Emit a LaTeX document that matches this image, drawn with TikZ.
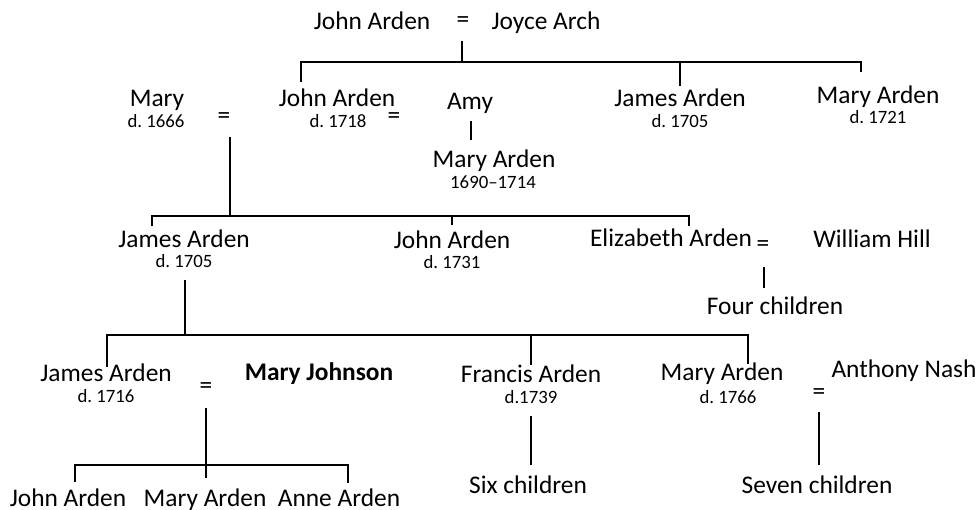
\documentclass[tikz,border=0pt]{standalone}
\usepackage{fontspec}
\setmainfont{Carlito}
\usetikzlibrary{positioning}

\begin{document}
\frenchspacing
\begin{tikzpicture}[x=0.5pt,y=-0.5pt,
            pers/.style={font=\fontsize{12.7}{15}\selectfont,inner sep=0pt,
                         text height=9pt,text depth=2.7pt},
            died/.style={font=\fontsize{9.4}{11}\selectfont,inner sep=0pt,
                         text height=6.7pt,text depth=2pt},
            wed/.style={font=\fontsize{12.7}{15}\selectfont,inner sep=0pt},
            bond/.style={draw,line width=1pt}]
        \useasboundingbox (0,0) rectangle (978,509);
        % first generation
        \node[pers] (john0) at (372,23) {John Arden};
        \node[wed]  (wed0)  at (463,22) {=};
        \node[pers] (joyce) at (546,23) {Joyce Arch};
        % second generation
        \node[pers] (mary1)   at (157,100) {Mary};
        \node[died] (mary1d)  at (156,123) {d. 1666};
        \node[wed]  (wed1)    at (224,118) {=};
        \node[pers] (john1)   at (337,100) {John Arden};
        \node[died] (john1d)  at (338,123) {d. 1718};
        \node[wed]  (wed2)    at (394,118) {=};
        \node[pers] (amy)     at (470,103) {Amy};
        \node[pers] (maryA)   at (494,161) {Mary Arden};
        \node[died] (maryAd)  at (493,184) {1690--1714};
        \node[pers] (james1)  at (680,100) {James Arden};
        \node[died] (james1d) at (680,123) {d. 1705};
        \node[pers] (mary2)   at (878,97)  {Mary Arden};
        \node[died] (mary2d)  at (878,119) {d. 1721};
        % third generation
        \node[pers] (james2)  at (184,241) {James Arden};
        \node[died] (james2d) at (184,263) {d. 1705};
        \node[pers] (john2)   at (452,242) {John Arden};
        \node[died] (john2d)  at (452,264) {d. 1731};
        \node[pers] (eliz)    at (671,240) {Elizabeth Arden};
        \node[wed]  (wed3)    at (763,246) {=};
        \node[pers] (will)    at (872,241) {William Hill};
        \node[pers] (four)    at (775,308) {Four children};
        % fourth generation
        \node[pers] (james3)   at (106,375) {James Arden};
        \node[died] (james3d)  at (106,398) {d. 1716};
        \node[wed]  (wed4)     at (206,388) {=};
        \node[pers,font=\fontsize{12.7}{15}\selectfont\bfseries] (mjohn) at (319,374) {Mary Johnson};
        \node[pers] (francis)  at (531,376) {Francis Arden};
        \node[died] (francisd) at (531,399) {d.1739};
        \node[pers] (mary3)    at (722,374) {Mary Arden};
        \node[died] (mary3d)   at (728,399) {d. 1766};
        \node[wed]  (wed5)     at (819,394) {=};
        \node[pers] (nash)     at (904,371) {Anthony Nash};
        \node[pers] (six)      at (528,487) {Six children};
        \node[pers] (seven)    at (817,487) {Seven children};
        % fifth generation
        \node[pers] (johnk) at (68,500)  {John Arden};
        \node[pers] (maryk) at (205,500) {Mary Arden};
        \node[pers] (annek) at (339,500) {Anne Arden};

        % lines of descent
        \coordinate (d0) at (462,41);
        \coordinate (bar0l) at (301,62);
        \coordinate (bar0r) at (861,62);
        \draw[bond] (d0) -- (d0 |- bar0l);
        \draw[bond] ([yshift=-10pt]bar0l) -- (bar0l) -- (bar0r) -- ([yshift=-5pt]bar0r);
        \draw[bond] (bar0l -| james1) -- ++(0,24);

        \coordinate (dA) at (471,121);
        \draw[bond] (dA) -- ++(0,19);

        \coordinate (d1) at (230,137);
        \coordinate (bar1l) at (152,216);
        \coordinate (bar1r) at (689,216);
        \draw[bond] (d1) -- (d1 |- bar1l);
        \draw[bond] ([yshift=-5pt]bar1l) -- (bar1l) -- (bar1r) -- ([yshift=-5pt]bar1r);
        \draw[bond] (bar1l -| john2) -- ++(0,9);

        \coordinate (d3) at (764,267);
        \draw[bond] (d3) -- ++(0,21);

        \coordinate (d2) at (185,280);
        \coordinate (bar2l) at (107,335);
        \coordinate (bar2r) at (748,335);
        \draw[bond] (d2) -- (d2 |- bar2l);
        \draw[bond] ([yshift=-16pt]bar2l) -- (bar2l) -- (bar2r) -- ([yshift=-14.5pt]bar2r);
        \draw[bond] (bar2l -| francis) -- ++(0,30);

        \coordinate (d6) at (531,416);
        \draw[bond] (d6) -- ++(0,49);
        \coordinate (d5) at (819,412);
        \draw[bond] (d5) -- ++(0,53);

        \coordinate (d4) at (206,408);
        \coordinate (bar4l) at (75,465);
        \coordinate (bar4r) at (348,465);
        \draw[bond] (d4) -- ++(0,70);
        \draw[bond] ([yshift=-8.5pt]bar4l) -- (bar4l) -- (bar4r) -- ([yshift=-9pt]bar4r);
\end{tikzpicture}
\end{document}
